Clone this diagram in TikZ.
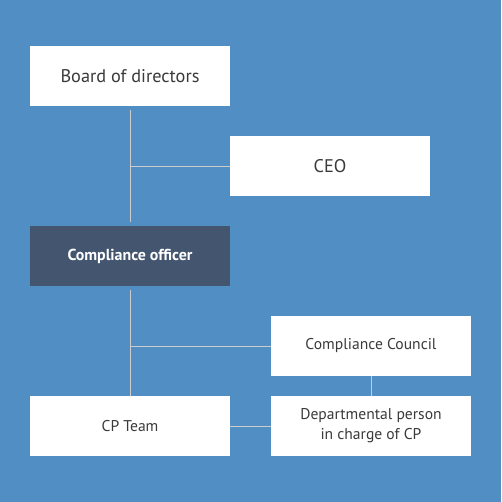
\documentclass[tikz,border=0pt]{standalone}
\usepackage{fontspec}
\setmainfont{PT Sans}
\definecolor{bg}{HTML}{518EC4}
\definecolor{dark}{HTML}{44566F}
\definecolor{txt}{HTML}{3A3A3A}
\definecolor{ln}{HTML}{CCCCCC}
\tikzset{
  box/.style={fill=white, draw=none, minimum width=200pt, minimum height=60pt, inner sep=0pt, text=txt, align=center},
  bigtxt/.style={font=\fontsize{18.3}{20}\selectfont},
  smalltxt/.style={font=\fontsize{15.6}{20}\selectfont},
  darkbox/.style={fill=dark, text=white, font=\fontsize{15.9}{18}\selectfont\bfseries},
  conn/.style={draw=ln, line width=0.9pt}
}
\begin{document}
\begin{tikzpicture}[x=1pt,y=-1pt]
\fill[bg] (0,0) rectangle (501,502);
\useasboundingbox (0,0) rectangle (501,502);
\node[box,bigtxt] (board) at (130,76) {Board of directors};
\node[box,bigtxt] (ceo) at (330,166) {CEO};
\node[box,darkbox] (officer) at (130,256) {Compliance officer};
\node[box,smalltxt] (council) at (371,346) {Compliance Council};
\node[box,smalltxt] (cpteam) at (130,426) {CP Team};
\node[box,smalltxt] (dept) at (371,426) {Departmental person\\in charge of CP};
\draw[conn, shorten <=4pt, shorten >=4pt] (board) -- (officer);
\draw[conn] (ceo.west) -- (ceo.west -| board.south);
\draw[conn, shorten <=4pt] (officer) -- (cpteam);
\draw[conn] (council.west) -- (council.west -| officer.south);
\draw[conn] (council) -- (dept);
\draw[conn] (cpteam) -- (dept);
\end{tikzpicture}
\end{document}
